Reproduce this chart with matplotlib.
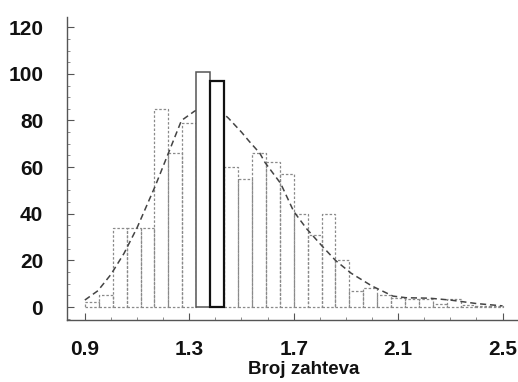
import numpy as np
import matplotlib
matplotlib.use("Agg")
import matplotlib.pyplot as plt
from matplotlib.ticker import MultipleLocator, FixedLocator

# Histogram of request counts (30 equal bins from 0.9 to 2.5)
bin_start = 0.9
bin_stop = 2.5
counts = [2, 5, 34, 34, 34, 85, 66, 79, 101, 97, 60, 55, 66, 62, 57,
          40, 31, 40, 20, 7, 8, 5, 4, 3.5, 3.5, 1.5, 3.5, 1, 0.5, 0.5]
highlight_bin = 9

# Fitted density curve (scaled to counts)
curve_x = [0.90, 0.95, 1.00, 1.05, 1.10, 1.17, 1.22, 1.27, 1.32, 1.37,
           1.41, 1.45, 1.50, 1.53, 1.57, 1.59, 1.65, 1.70, 1.75, 1.81,
           1.86, 1.92, 2.00, 2.08, 2.13, 2.22, 2.30, 2.40, 2.50]
curve_y = [3, 7, 14, 23, 34, 52, 66, 80, 84, 86,
           85, 81, 75, 71, 66, 62, 53, 41, 33.5, 26,
           20, 14.5, 9, 4.7, 4, 3.8, 3, 1.5, 0.5]

x_ticks = [0.9, 1.3, 1.7, 2.1, 2.5]
y_ticks = [0, 20, 40, 60, 80, 100, 120]
x_label = "Broj zahteva"

edges = np.linspace(bin_start, bin_stop, len(counts) + 1)
width = edges[1] - edges[0]

fig = plt.figure(figsize=(5.18, 3.82), dpi=100)
ax = fig.add_axes([0.129, 0.162, 0.871, 0.793])

ax.plot(curve_x, curve_y, color="#444444", linewidth=1.1,
        linestyle=(0, (4, 2.5)), zorder=2.5)

for i, c in enumerate(counts):
    if i == highlight_bin:
        ax.bar(edges[i], c, width=width, align="edge", facecolor="white",
               edgecolor="#111111", linewidth=1.6, zorder=3)
    elif i == highlight_bin - 1:
        ax.bar(edges[i], c, width=width, align="edge", facecolor="white",
               edgecolor="#555555", linewidth=1.1, zorder=3)
    else:
        ax.bar(edges[i], c, width=width, align="edge", facecolor="none",
               edgecolor="#8a8a8a", linewidth=0.9, linestyle=(0, (2, 1.5)),
               zorder=2)

ax.set_xlim(0.831, 2.559)
ax.set_ylim(-5.6, 124.3)

ax.xaxis.set_major_locator(FixedLocator(x_ticks))
ax.xaxis.set_minor_locator(MultipleLocator(0.1))
ax.yaxis.set_major_locator(FixedLocator(y_ticks))
ax.yaxis.set_minor_locator(MultipleLocator(5))
ax.set_xticklabels([f"{t:.1f}" for t in x_ticks])
ax.set_yticklabels([str(t) for t in y_ticks])

for spine in ["top", "right"]:
    ax.spines[spine].set_visible(False)
for spine in ["left", "bottom"]:
    ax.spines[spine].set_color("#555555")
    ax.spines[spine].set_linewidth(1.0)
    ax.spines[spine].set_linestyle((0, (3, 1)))

ax.tick_params(axis="both", which="major", direction="in", length=5,
               width=0.8, color="#555555", labelsize=15, labelcolor="#111111")
ax.tick_params(axis="both", which="minor", direction="in", length=2.5,
               width=0.6, color="#777777")
ax.tick_params(axis="x", which="major", pad=14)
ax.tick_params(axis="y", which="major", pad=17)

for lbl in ax.get_xticklabels() + ax.get_yticklabels():
    lbl.set_fontfamily("Liberation Sans")
    lbl.set_fontweight("bold")

ax.set_xlabel(x_label, fontsize=13.5, fontweight="bold",
              fontfamily="Liberation Sans", color="#111111", labelpad=2,
              x=0.525)

fig.savefig("out.png", dpi=100)
